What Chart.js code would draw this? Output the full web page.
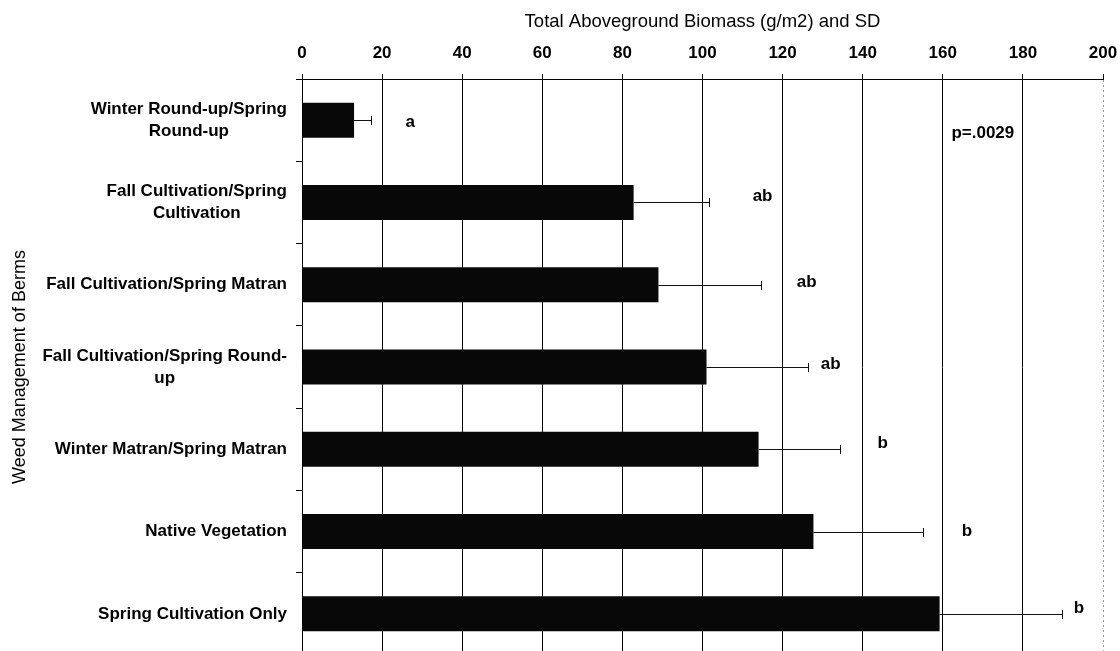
<!DOCTYPE html>
<html>
<head>
<meta charset="utf-8">
<title>Total Aboveground Biomass</title>
<script src="https://cdn.jsdelivr.net/npm/chart.js@4.4.0/dist/chart.umd.min.js"></script>
<style>
  html, body { margin: 0; padding: 0; background: #fff; overflow: hidden; }
  canvas { display: block; }
</style>
</head>
<body>
<canvas id="chart" width="1120" height="660"></canvas>
<script>
// treatments, top to bottom
const treatments = [
    ["Winter Round-up/Spring", "Round-up"],
    ["Fall Cultivation/Spring", "Cultivation"],
    ["Fall Cultivation/Spring Matran"],
    ["Fall Cultivation/Spring Round-", "up"],
    ["Winter Matran/Spring Matran"],
    ["Native Vegetation"],
    ["Spring Cultivation Only"]
];
const biomass   = [13, 82.8, 89, 101, 114, 127.7, 159.2];  // g/m2
const biomassSD = [4.3, 18.7, 25.5, 25.3, 20.3, 27.3, 30.5];
const groupLetters = ["a", "ab", "ab", "ab", "b", "b", "b"];
const xTicks = [0, 20, 40, 60, 80, 100, 120, 140, 160, 180, 200];
const pValue = "p=.0029";

// where the letters sit (in data units / category units)
const letterAt    = [27, 115, 126, 132, 145, 166, 194];
const letterShift = [0.03, -0.08, -0.03, -0.03, -0.07, 0, -0.07];
const pValueAt    = [170, 0.16];

const FONT = '"Liberation Sans", Arial, sans-serif';
Chart.defaults.font.family = FONT;
Chart.defaults.color = '#000';

const extras = {
    id: 'extras',
    afterDatasetsDraw(chart) {
        const {ctx, scales: {x, y}} = chart;
        ctx.save();
        // error bars
        ctx.strokeStyle = '#111';
        ctx.lineWidth = 1;
        biomass.forEach((v, i) => {
            const yc = Math.round(y.getPixelForValue(i)) + 0.5;
            const x0 = x.getPixelForValue(v);
            const x1 = Math.round(x.getPixelForValue(v + biomassSD[i])) + 0.5;
            ctx.beginPath();
            ctx.moveTo(x0, yc); ctx.lineTo(x1, yc);
            ctx.moveTo(x1, yc - 4.5); ctx.lineTo(x1, yc + 4.5);
            ctx.stroke();
        });
        // significance letters
        ctx.fillStyle = '#000';
        ctx.font = 'bold 17px ' + FONT;
        ctx.textAlign = 'center';
        ctx.textBaseline = 'middle';
        groupLetters.forEach((s, i) => {
            ctx.fillText(s, x.getPixelForValue(letterAt[i]), y.getPixelForValue(i + letterShift[i]));
        });
        ctx.fillText(pValue, x.getPixelForValue(pValueAt[0]), y.getPixelForValue(pValueAt[1]));
        // category labels, lines centred inside a right aligned block
        const right = y.right - 15;
        treatments.forEach((lines, i) => {
            const w = Math.max(...lines.map(l => ctx.measureText(l).width));
            const yc = y.getPixelForValue(i);
            lines.forEach((l, k) => {
                ctx.fillText(l, right - w / 2, yc + (k - (lines.length - 1) / 2) * 22);
            });
        });
        ctx.restore();
    }
};

new Chart(document.getElementById('chart').getContext('2d'), {
    type: 'bar',
    data: {
        labels: treatments,
        datasets: [{
            data: biomass,
            backgroundColor: '#080808',
            borderWidth: 0,
            categoryPercentage: 1,
            barPercentage: 0.425
        }]
    },
    options: {
        indexAxis: 'y',
        responsive: false,
        animation: false,
        events: [],
        layout: { padding: { top: 0, right: 17, bottom: 5, left: 0 } },
        plugins: { legend: { display: false }, tooltip: { enabled: false } },
        scales: {
            x: {
                position: 'top',
                min: 0,
                max: 200,
                afterBuildTicks: s => { s.ticks = xTicks.map(v => ({value: v})); },
                afterFit: s => { s.height = 79; s.paddingLeft = 0; s.paddingRight = 0; },
                grid: {
                    color: c => (c.tick && c.tick.value === 200) ? '#9a9a9a' : '#000',
                    lineWidth: 1,
                    tickLength: 5,
                    tickColor: '#000'
                },
                border: {
                    color: '#000',
                    dash: c => (c.tick && c.tick.value === 200) ? [2, 3] : []
                },
                ticks: { font: { size: 17, weight: 'bold' }, padding: 10, color: '#000' },
                title: {
                    display: true,
                    text: 'Total Aboveground Biomass (g/m2) and SD',
                    font: { size: 18.5 },
                    padding: { top: 11, bottom: 0 }
                }
            },
            y: {
                afterFit: s => { s.width = 302; },
                grid: { drawOnChartArea: false, tickLength: 6, color: '#000' },
                border: { color: '#000' },
                ticks: { display: false },
                title: {
                    display: true,
                    text: 'Weed Management of Berms',
                    font: { size: 18 },
                    padding: { top: 9, bottom: 0 }
                }
            }
        }
    },
    plugins: [extras]
});
</script>
</body>
</html>
